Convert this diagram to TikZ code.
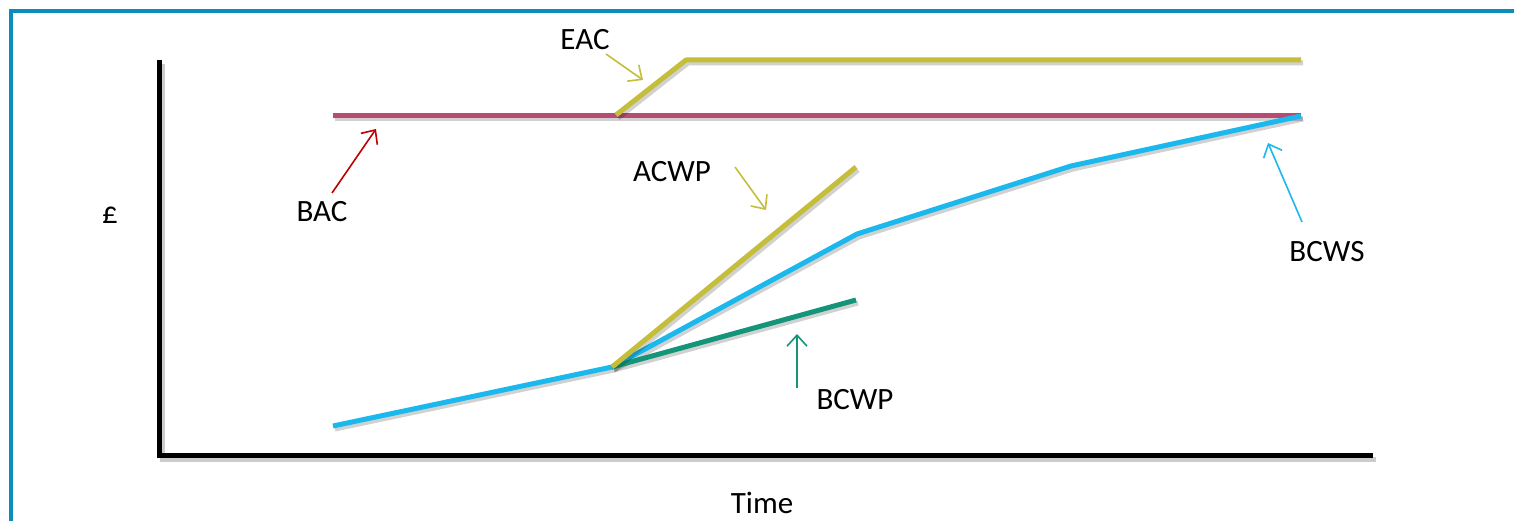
\documentclass[tikz,border=0pt]{standalone}
\usepackage{fontspec}
\setmainfont{Carlito}
\usetikzlibrary{arrows.meta}
\definecolor{frameblue}{HTML}{0A8DBC}
\definecolor{bacred}{HTML}{B94A72}
\definecolor{olive}{HTML}{C4BE3A}
\definecolor{cyanline}{HTML}{1BB8EE}
\definecolor{tealline}{HTML}{14957A}
\definecolor{arrred}{HTML}{C00000}
\begin{document}
\begin{tikzpicture}[x=1pt,y=-1pt,
  lbl/.style={font=\fontsize{31}{36}\selectfont, inner sep=0pt, text=black},
  curve/.style={line width=5pt, line join=round,
    preaction={draw=black, draw opacity=0.18, line width=5pt, transform canvas={shift={(2pt,-3pt)}}}},
  axis/.style={line width=5pt, black,
    preaction={draw=black, draw opacity=0.2, line width=5pt, transform canvas={shift={(3pt,-4pt)}}}},
  pointer/.style={line width=1.6pt, -{Straight Barb[length=11pt,width=20pt,line width=1.6pt]}}
]
\useasboundingbox (0,0) rectangle (1514,521);
% frame
\draw[frameblue, line width=4pt] (1514,11.5) -- (11,11.5) -- (11,521);
% axes
\coordinate (ytop) at (159,60);
\coordinate (origin) at (159,455);
\coordinate (xend) at (1373,455);
\draw[axis] (ytop) -- (origin) -- (xend);
% key points
\coordinate (bacL) at (333,116);
\coordinate (bacR) at (1301,116);
\coordinate (eac0) at (616,115);
\coordinate (eac1) at (686,60);
\coordinate (eac2) at (1301,60);
\coordinate (s0) at (333,426);
\coordinate (s1) at (612,367);
\coordinate (s2) at (857,234);
\coordinate (s3) at (1071,166);
\coordinate (s4) at (1301,116);
\coordinate (acwpE) at (856,167);
\coordinate (bcwpE) at (856,300);
% curves
\draw[curve, bacred] (bacL) -- (bacR);
\draw[curve, olive] (eac0) -- (eac1) -- (eac2);
\draw[curve, cyanline] (s0) -- (s1) -- (s2) -- (s3) -- (s4);
\draw[curve, tealline] (s1) -- (bcwpE);
\draw[curve, olive] (s1) -- (acwpE);
% labels
\node[lbl] (eac) at (585,40) {EAC};
\node[lbl] (bac) at (322,212) {BAC};
\node[lbl] (acwp) at (672,172) {ACWP};
\node[lbl] (bcwp) at (855,400) {BCWP};
\node[lbl] (bcws) at (1327,252) {BCWS};
\node[lbl] (pound) at (110,215) {£};
\node[lbl] (time) at (762,503) {Time};
% pointer arrows
\coordinate (eacA) at (606,54);  \coordinate (eacB) at (643,80);
\coordinate (bacA) at (332,193); \coordinate (bacB) at (376,129);
\coordinate (acA) at (735,167);  \coordinate (acB) at (766,210);
\coordinate (bpA) at (797,388);  \coordinate (bpB) at (797,334);
\coordinate (bsA) at (1302,222); \coordinate (bsB) at (1268,143);
\draw[pointer, olive] (eacA) -- (eacB);
\draw[pointer, arrred] (bacA) -- (bacB);
\draw[pointer, olive] (acA) -- (acB);
\draw[pointer, tealline] (bpA) -- (bpB);
\draw[pointer, cyanline] (bsA) -- (bsB);
\end{tikzpicture}
\end{document}
